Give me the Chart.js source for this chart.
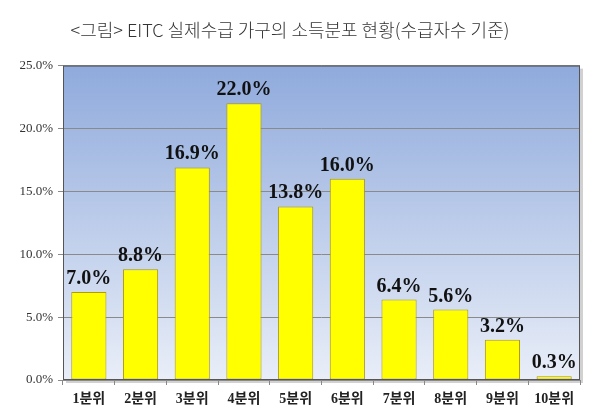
<!DOCTYPE html>
<html>
<head>
<meta charset="utf-8">
<script src="https://cdn.jsdelivr.net/npm/chart.js@4"></script>
<style>
  html, body { margin: 0; padding: 0; background: #fff; }
  #wrap { width: 600px; height: 419px; }
</style>
</head>
<body>
<div id="wrap"><canvas id="chart" width="600" height="419"></canvas></div>
<script>
const titleText = "<그림> EITC 실제수급 가구의 소득분포 현황(수급자수 기준)";
const categories = ["1분위", "2분위", "3분위", "4분위", "5분위", "6분위", "7분위", "8분위", "9분위", "10분위"];
const shares = [7.0, 8.8, 16.9, 22.0, 13.8, 16.0, 6.4, 5.6, 3.2, 0.3];
const yTicks = [0, 5, 10, 15, 20, 25];

const serif = "'Liberation Serif', 'Times New Roman', 'Noto Sans CJK KR', serif";

// gradient plot background + drop shadow + border
const plotBackground = {
  id: "plotBackground",
  beforeDraw(chart) {
    const { ctx, chartArea: a } = chart;
    ctx.save();
    ctx.fillStyle = "rgba(0,0,0,0.18)";
    ctx.fillRect(a.left + 3, a.top + 3, a.right - a.left, a.bottom - a.top);
    const g = ctx.createLinearGradient(0, a.top, 0, a.bottom);
    g.addColorStop(0, "#8faadc");
    g.addColorStop(1, "#e9eef8");
    ctx.fillStyle = g;
    ctx.fillRect(a.left, a.top, a.right - a.left, a.bottom - a.top);
    ctx.restore();
  },
  afterDatasetsDraw(chart) {
    const { ctx, chartArea: a } = chart;
    ctx.save();
    ctx.strokeStyle = "#555";
    ctx.lineWidth = 1;
    ctx.strokeRect(a.left + 0.5, a.top + 0.5, a.right - a.left - 1, a.bottom - a.top - 1);
    ctx.restore();
  }
};

// value labels above bars
const valueLabels = {
  id: "valueLabels",
  afterDatasetsDraw(chart) {
    const { ctx } = chart;
    const meta = chart.getDatasetMeta(0);
    ctx.save();
    ctx.font = "bold 20px " + serif;
    ctx.fillStyle = "#111";
    ctx.textAlign = "center";
    ctx.textBaseline = "alphabetic";
    meta.data.forEach((bar, i) => {
      ctx.fillText(shares[i].toFixed(1) + "%", bar.x, bar.y - 8);
    });
    ctx.restore();
  }
};

new Chart(document.getElementById("chart").getContext("2d"), {
  type: "bar",
  data: {
    labels: categories,
    datasets: [{
      data: shares,
      backgroundColor: "#ffff00",
      borderColor: "#b09a10",
      borderWidth: 1,
      borderSkipped: false,
      barPercentage: 0.68,
      categoryPercentage: 1
    }]
  },
  options: {
    responsive: false,
    animation: false,
    layout: { padding: { top: 0, right: 20, left: 0, bottom: 0 } },
    plugins: {
      legend: { display: false },
      tooltip: { enabled: false },
      title: {
        display: true,
        text: titleText,
        color: "#333",
        font: { family: "'Noto Sans CJK KR', sans-serif", size: 18, weight: "300" },
        padding: { top: 19, bottom: 25 }
      }
    },
    scales: {
      x: {
        afterFit: (s) => { s.height = 39; },
        grid: {
          offset: true,
          drawOnChartArea: false,
          drawTicks: true,
          tickLength: 5,
          color: "#888"
        },
        border: { display: false },
        ticks: {
          color: "#222",
          padding: 6,
          font: { family: serif, size: 14, weight: "bold" }
        }
      },
      y: {
        min: 0,
        max: 25,
        afterFit: (s) => { s.width = 63; },
        afterBuildTicks: (s) => { s.ticks = yTicks.map((v) => ({ value: v })); },
        grid: { color: "#8a8a8a", tickLength: 5, lineWidth: 1 },
        border: { display: false },
        ticks: {
          color: "#333",
          padding: 5,
          font: { family: serif, size: 13 },
          callback: (v) => v.toFixed(1) + "%"
        }
      }
    }
  },
  plugins: [plotBackground, valueLabels]
});
</script>
</body>
</html>
